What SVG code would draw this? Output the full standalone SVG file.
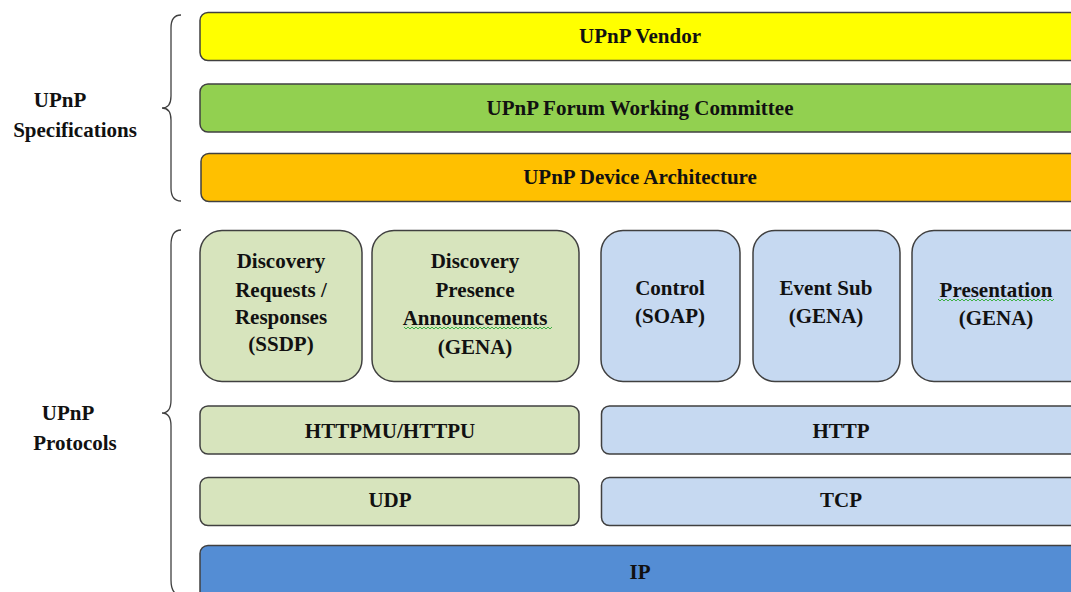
<svg xmlns="http://www.w3.org/2000/svg" width="1071" height="592" viewBox="0 0 1071 592">
<style>
.box{stroke:#404040;stroke-width:1.5}
.t{font-family:"Liberation Serif","Times New Roman",serif;font-weight:bold;font-size:21px;fill:#111;text-anchor:middle}
.brace{fill:none;stroke:#404040;stroke-width:1.3}
.sq{fill:none;stroke:#3cb043;stroke-width:1}
</style>
<rect width="1071" height="592" fill="#fff"/>
<g id="braces">
<path class="brace" d="M181,15 Q171,15 171,28 L171,96 Q171,108 162,108 Q171,108 171,120 L171,188 Q171,201 181,201"/>
<path class="brace" d="M181,230 Q171,230 171,245 L171,400 Q171,413 162,413 Q171,413 171,426 L171,580 Q171,595 181,595"/>
</g>
<g id="label-spec">
<text class="t" x="60" y="107">UPnP</text>
<text class="t" x="75" y="137">Specifications</text>
</g>
<g id="label-proto">
<text class="t" x="68" y="420">UPnP</text>
<text class="t" x="75" y="450">Protocols</text>
</g>
<g id="vendor">
<rect class="box" x="200" y="12.5" width="890" height="48" rx="8" fill="#ffff00"/>
<text class="t" x="640" y="43">UPnP Vendor</text>
</g>
<g id="forum">
<rect class="box" x="200" y="84" width="890" height="48" rx="8" fill="#92d050"/>
<text class="t" x="640" y="115">UPnP Forum Working Committee</text>
</g>
<g id="uda">
<rect class="box" x="201" y="153.5" width="890" height="48" rx="8" fill="#ffc000"/>
<text class="t" x="640" y="184">UPnP Device Architecture</text>
</g>
<g id="ssdp">
<rect class="box" x="200" y="230.5" width="162" height="151" rx="22" fill="#d7e4bd"/>
<text class="t" x="281" y="268">Discovery</text>
<text class="t" x="281" y="297">Requests /</text>
<text class="t" x="281" y="324">Responses</text>
<text class="t" x="281" y="351">(SSDP)</text>
</g>
<g id="presence">
<rect class="box" x="372" y="230.5" width="207" height="151" rx="22" fill="#d7e4bd"/>
<text class="t" x="475" y="268">Discovery</text>
<text class="t" x="475" y="297">Presence</text>
<text class="t" x="475" y="325">Announcements</text>
<text class="t" x="475" y="354">(GENA)</text>
<path class="sq" d="M404,327 l2,2 l2,-2 l2,2 l2,-2 l2,2 l2,-2 l2,2 l2,-2 l2,2 l2,-2 l2,2 l2,-2 l2,2 l2,-2 l2,2 l2,-2 l2,2 l2,-2 l2,2 l2,-2 l2,2 l2,-2 l2,2 l2,-2 l2,2 l2,-2 l2,2 l2,-2 l2,2 l2,-2 l2,2 l2,-2 l2,2 l2,-2 l2,2 l2,-2 l2,2 l2,-2 l2,2 l2,-2 l2,2 l2,-2 l2,2 l2,-2 l2,2 l2,-2 l2,2 l2,-2 l2,2 l2,-2 l2,2 l2,-2 l2,2 l2,-2 l2,2 l2,-2 l2,2 l2,-2 l2,2 l2,-2 l2,2 l2,-2 l2,2 l2,-2 l2,2 l2,-2 l2,2 l2,-2 l2,2 l2,-2 l2,2 l2,-2 l2,2 l2,-2"/>
</g>
<g id="control">
<rect class="box" x="601" y="230.5" width="139" height="151" rx="22" fill="#c6d9f1"/>
<text class="t" x="670" y="295">Control</text>
<text class="t" x="670" y="323">(SOAP)</text>
</g>
<g id="eventsub">
<rect class="box" x="753" y="230.5" width="147" height="151" rx="22" fill="#c6d9f1"/>
<text class="t" x="826" y="295">Event Sub</text>
<text class="t" x="826" y="323">(GENA)</text>
</g>
<g id="presentation">
<rect class="box" x="912" y="230.5" width="180" height="151" rx="22" fill="#c6d9f1"/>
<text class="t" x="996" y="297">Presentation</text>
<text class="t" x="996" y="325">(GENA)</text>
<path class="sq" d="M938,299 l2,2 l2,-2 l2,2 l2,-2 l2,2 l2,-2 l2,2 l2,-2 l2,2 l2,-2 l2,2 l2,-2 l2,2 l2,-2 l2,2 l2,-2 l2,2 l2,-2 l2,2 l2,-2 l2,2 l2,-2 l2,2 l2,-2 l2,2 l2,-2 l2,2 l2,-2 l2,2 l2,-2 l2,2 l2,-2 l2,2 l2,-2 l2,2 l2,-2 l2,2 l2,-2 l2,2 l2,-2 l2,2 l2,-2 l2,2 l2,-2 l2,2 l2,-2 l2,2 l2,-2 l2,2 l2,-2 l2,2 l2,-2 l2,2 l2,-2 l2,2 l2,-2 l2,2 l2,-2"/>
</g>
<g id="httpmu">
<rect class="box" x="200" y="406" width="379" height="48" rx="8" fill="#d7e4bd"/>
<text class="t" x="390" y="438">HTTPMU/HTTPU</text>
</g>
<g id="http">
<rect class="box" x="601.5" y="406" width="490" height="48" rx="8" fill="#c6d9f1"/>
<text class="t" x="841" y="438">HTTP</text>
</g>
<g id="udp">
<rect class="box" x="200" y="477.5" width="379" height="48" rx="8" fill="#d7e4bd"/>
<text class="t" x="390" y="507">UDP</text>
</g>
<g id="tcp">
<rect class="box" x="601.5" y="477.5" width="490" height="48" rx="8" fill="#c6d9f1"/>
<text class="t" x="841" y="507">TCP</text>
</g>
<g id="ip">
<rect class="box" x="200" y="545.5" width="890" height="60" rx="8" fill="#548dd4"/>
<text class="t" x="640" y="579">IP</text>
</g>
<g id="connectors"></g>
</svg>
